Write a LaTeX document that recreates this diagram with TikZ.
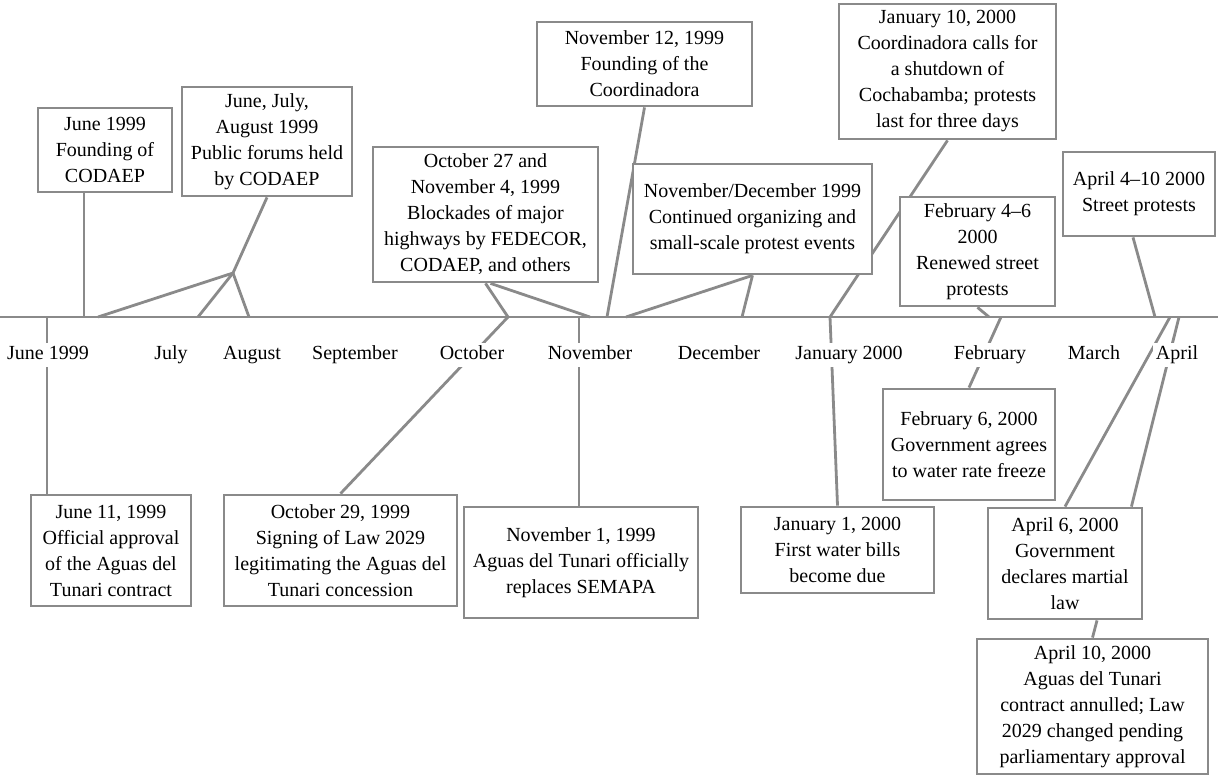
\documentclass[tikz,border=0pt]{standalone}
\usepackage{fontspec}
\setmainfont{Liberation Serif}
\usetikzlibrary{backgrounds}
\definecolor{linegray}{RGB}{138,138,138}
\begin{document}
\begin{tikzpicture}[x=0.5pt, y=-0.5pt,
  event/.style={draw=linegray, line width=1.4pt, fill=white, align=center,
    inner sep=0pt, font=\fontsize{10}{13}\selectfont},
  month/.style={fill=white, inner sep=1.5pt, text height=7pt, text depth=2.2pt,
    font=\fontsize{10}{12}\selectfont},
  link/.style={draw=linegray, line width=1.4pt}]
  \useasboundingbox (0,0) rectangle (1218,776);
  % events above the line
  \node[event, minimum width=67pt, minimum height=42pt] (1) at (105,150) {June 1999\\Founding of\\CODAEP};
  \node[event, minimum width=85pt, minimum height=54.5pt] (2) at (267,141.5) {June, July,\\August 1999\\Public forums held\\by CODAEP};
  \node[event, minimum width=112.5pt, minimum height=67.5pt] (3) at (485.5,214.5) {October 27 and\\November 4, 1999\\Blockades of major\\highways by FEDECOR,\\CODAEP, and others};
  \node[event, minimum width=107.5pt, minimum height=42pt] (4) at (644.5,64) {November 12, 1999\\Founding of the\\Coordinadora};
  \node[event, minimum width=119.5pt, minimum height=55pt] (5) at (752.5,219) {November/December 1999\\Continued organizing and\\small-scale protest events};
  \node[event, minimum width=108.5pt, minimum height=67.5pt] (6) at (947.5,71.5) {January 10, 2000\\Coordinadora calls for\\a shutdown of\\Cochabamba; protests\\last for three days};
  \node[event, minimum width=77.5pt, minimum height=54.5pt] (7) at (977.5,251.5) {February 4–6\\2000\\Renewed street\\protests};
  \node[event, minimum width=76pt, minimum height=42pt] (8) at (1139,194) {April 4–10 2000\\Street protests};
  % events below the line
  \node[event, minimum width=80pt, minimum height=55.5pt] (9) at (111,550.5) {June 11, 1999\\Official approval\\of the Aguas del\\Tunari contract};
  \node[event, minimum width=116.5pt, minimum height=55.5pt] (10) at (340.5,550.5) {October 29, 1999\\Signing of Law 2029\\legitimating the Aguas del\\Tunari concession};
  \node[event, minimum width=117pt, minimum height=55.5pt] (11) at (581,562.5) {November 1, 1999\\Aguas del Tunari officially\\replaces SEMAPA};
  \node[event, minimum width=96.5pt, minimum height=43pt] (12) at (837.5,550) {January 1, 2000\\First water bills\\become due};
  \node[event, minimum width=86pt, minimum height=55.5pt] (13) at (969,444.5) {February 6, 2000\\Government agrees\\to water rate freeze};
  \node[event, minimum width=77pt, minimum height=55.5pt] (14) at (1065,563.5) {April 6, 2000\\Government\\declares martial\\law};
  \node[event, minimum width=115.5pt, minimum height=67.5pt] (15) at (1092.5,706.5) {April 10, 2000\\Aguas del Tunari\\contract annulled; Law\\2029 changed pending\\parliamentary approval};
  % months
  \node[month] (jun) at (48,355) {June 1999};
  \node[month] (jul) at (171,355) {July};
  \node[month] (aug) at (252,355) {August};
  \node[month] (sep) at (355,355) {September};
  \node[month] (oct) at (472,355) {October};
  \node[month] (nov) at (590,355) {November};
  \node[month] (dec) at (719,355) {December};
  \node[month] (jan) at (849,355) {January 2000};
  \node[month] (feb) at (990,355) {February};
  \node[month] (mar) at (1094,355) {March};
  \node[month] (apr) at (1177,355) {April};
  % points on the line
  \coordinate (west) at (0,317);
  \coordinate (east) at (1218,317);
  \coordinate (tjun) at (47,317);
  \coordinate (t1) at (84,317);
  \coordinate (j2) at (233,273);
  \coordinate (t2a) at (98,317);
  \coordinate (t2b) at (198,317);
  \coordinate (t2c) at (249,317);
  \coordinate (t3a) at (508,317);
  \coordinate (t3b) at (590,317);
  \coordinate (tnov) at (579,317);
  \coordinate (t4) at (607,317);
  \coordinate (t5a) at (626,317);
  \coordinate (t5b) at (742,317);
  \coordinate (tjan) at (830,317);
  \coordinate (t7) at (989,317);
  \coordinate (tfeb) at (1001,317);
  \coordinate (t8) at (1155,317);
  \coordinate (tapr) at (1170,317);
  \coordinate (tapr2) at (1179,317);
  \begin{scope}[on background layer]
    \draw[link] (west) -- (east);
    \draw[link] (t1 |- 1.south) -- (t1);
    \draw[link] (2.south) -- (j2);
    \draw[link] (j2) -- (t2a);
    \draw[link] (j2) -- (t2b);
    \draw[link] (j2) -- (t2c);
    \draw[link] (3.south) -- (t3a);
    \draw[link] ([xshift=2.5pt]3.south) -- (t3b);
    \draw[link] (4.south) -- (t4);
    \draw[link] (5.south) -- (t5a);
    \draw[link] (5.south) -- (t5b);
    \draw[link] (6.south) -- (tjan);
    \draw[link] (7.south) -- (t7);
    \draw[link] ([xshift=-3pt]8.south) -- (t8);
    \draw[link] (tjun) -- (tjun |- 9.north);
    \draw[link] (t3a) -- (10.north);
    \draw[link] (tnov) -- (tnov |- 11.north);
    \draw[link] (tjan) -- (12.north);
    \draw[link] (tfeb) -- (13.north);
    \draw[link] (tapr) -- (14.north);
    \draw[link] (tapr2) -- ([xshift=-6pt]14.north east);
    \draw[link] ([xshift=16pt]14.south) -- (15.north);
  \end{scope}
\end{tikzpicture}
\end{document}
